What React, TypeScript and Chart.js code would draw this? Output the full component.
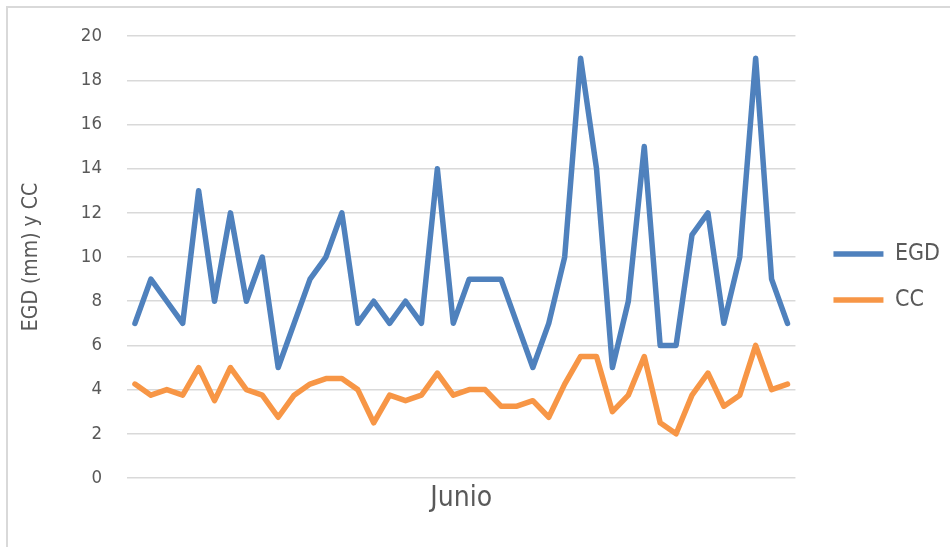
import React, { useEffect, useRef } from 'react';
import { Chart, registerables } from 'chart.js';

Chart.register(...registerables);

// ---- data ----
const categories = [
  '1', '2', '3', '4', '5', '6', '7', '8', '9', '10',
  '11', '12', '13', '14', '15', '16', '17', '18', '19', '20',
  '21', '22', '23', '24', '25', '26', '27', '28', '29', '30',
  '31', '32', '33', '34', '35', '36', '37', '38', '39', '40',
  '41', '42',
];
const egdValues = [7, 9, 8, 7, 13, 8, 12, 8, 10, 5, 7, 9, 10, 12, 7, 8, 7, 8, 7, 14, 7, 9, 9, 9, 7, 5, 7, 10, 19, 14, 5, 8, 15, 6, 6, 11, 12, 7, 10, 19, 9, 7];
const ccValues = [4.25, 3.75, 4, 3.75, 5, 3.5, 5, 4, 3.75, 2.75, 3.75, 4.25, 4.5, 4.5, 4, 2.5, 3.75, 3.5, 3.75, 4.75, 3.75, 4, 4, 3.25, 3.25, 3.5, 2.75, 4.25, 5.5, 5.5, 3, 3.75, 5.5, 2.5, 2, 3.75, 4.75, 3.25, 3.75, 6, 4, 4.25];
const seriesNames = ['EGD', 'CC'];
const xTitle = 'Junio';
const yTitle = 'EGD (mm) y CC';
const yMin = 0;
const yMax = 20;
const yStep = 2;

// ---- style ----
const FONT = "'Liberation Sans Narrow', 'DejaVu Sans Condensed', sans-serif";
const TEXT = '#595959';
const GRID = '#d9d9d9';
const BLUE = '#4f81bd';
const ORANGE = '#f79646';
const W = 950;
const H = 547;
const LEGEND_FONT = 23;
const LEGEND_PAD = 23;
const LINE_W = 50;
const GAP_AXIS = 15;

const framePlugin = {
  id: 'frame',
  beforeDraw(chart: any) {
    const ctx = chart.ctx;
    ctx.save();
    ctx.fillStyle = '#ffffff';
    ctx.fillRect(0, 0, chart.width, chart.height);
    ctx.strokeStyle = GRID;
    ctx.lineWidth = 2;
    ctx.beginPath();
    ctx.moveTo(7, chart.height);
    ctx.lineTo(7, 7);
    ctx.lineTo(chart.width, 7);
    ctx.stroke();
    ctx.restore();
  },
};

export default function App() {
  const ref = useRef<HTMLCanvasElement | null>(null);

  useEffect(() => {
    if (!ref.current) return;
    const m = document.createElement('canvas').getContext('2d')!;
    m.font = `${LEGEND_FONT}px ${FONT}`;
    const tw = Math.max(...seriesNames.map((s) => m.measureText(s).width));
    const legendW = LEGEND_PAD + LINE_W + LEGEND_FONT / 2 + tw + 10;
    const padRight = Math.max(0, W - 795 - 18 - legendW);

    const chart = new Chart(ref.current, {
      type: 'line',
      data: {
        labels: categories,
        datasets: [
          {
            label: seriesNames[0],
            data: egdValues,
            borderColor: BLUE,
            backgroundColor: BLUE,
            borderWidth: 5.5,
            pointRadius: 0,
            pointHoverRadius: 0,
            tension: 0,
            borderJoinStyle: 'round',
            borderCapStyle: 'round',
          },
          {
            label: seriesNames[1],
            data: ccValues,
            borderColor: ORANGE,
            backgroundColor: ORANGE,
            borderWidth: 5.5,
            pointRadius: 0,
            pointHoverRadius: 0,
            tension: 0,
            borderJoinStyle: 'round',
            borderCapStyle: 'round',
          },
        ],
      },
      options: {
        responsive: false,
        animation: false,
        devicePixelRatio: 1,
        layout: { padding: { top: 36, left: 0, right: padRight, bottom: 29 } },
        plugins: {
          tooltip: { enabled: false },
          legend: {
            position: 'right',
            align: 'center',
            labels: {
              usePointStyle: true,
              pointStyle: 'line',
              pointStyleWidth: LINE_W,
              padding: LEGEND_PAD,
              color: TEXT,
              font: { family: FONT, size: LEGEND_FONT },
            },
          },
        },
        scales: {
          x: {
            type: 'category',
            offset: true,
            grid: { display: false },
            border: { display: false },
            ticks: { display: false },
            title: {
              display: true,
              text: xTitle,
              color: TEXT,
              font: { family: FONT, size: 28 },
              padding: { top: 0, bottom: 2 },
            },
            afterFit: (s: any) => {
              s.height = H - 29 - 478;
            },
          },
          y: {
            type: 'linear',
            min: yMin,
            max: yMax,
            ticks: {
              stepSize: yStep,
              color: TEXT,
              padding: 25,
              font: { family: FONT, size: 18.5 },
            },
            grid: { color: GRID, lineWidth: 1.5, drawTicks: false },
            border: { display: false },
            title: {
              display: true,
              text: yTitle,
              color: TEXT,
              font: { family: FONT, size: 21 },
              padding: { top: 19, bottom: 0 },
            },
            afterFit: (s: any) => {
              s.width = 127;
            },
          },
          y2: {
            type: 'linear',
            position: 'right',
            display: true,
            grid: { display: false },
            border: { display: false },
            ticks: { display: false },
            afterFit: (s: any) => {
              s.width = GAP_AXIS;
            },
          },
        },
      },
      plugins: [framePlugin],
    } as any);
    return () => chart.destroy();
  }, []);

  return (
    <div style={{ position: 'fixed', left: 0, top: 0, width: W, height: H, background: '#fff' }}>
      <canvas ref={ref} width={W} height={H} style={{ display: 'block' }} />
    </div>
  );
}
